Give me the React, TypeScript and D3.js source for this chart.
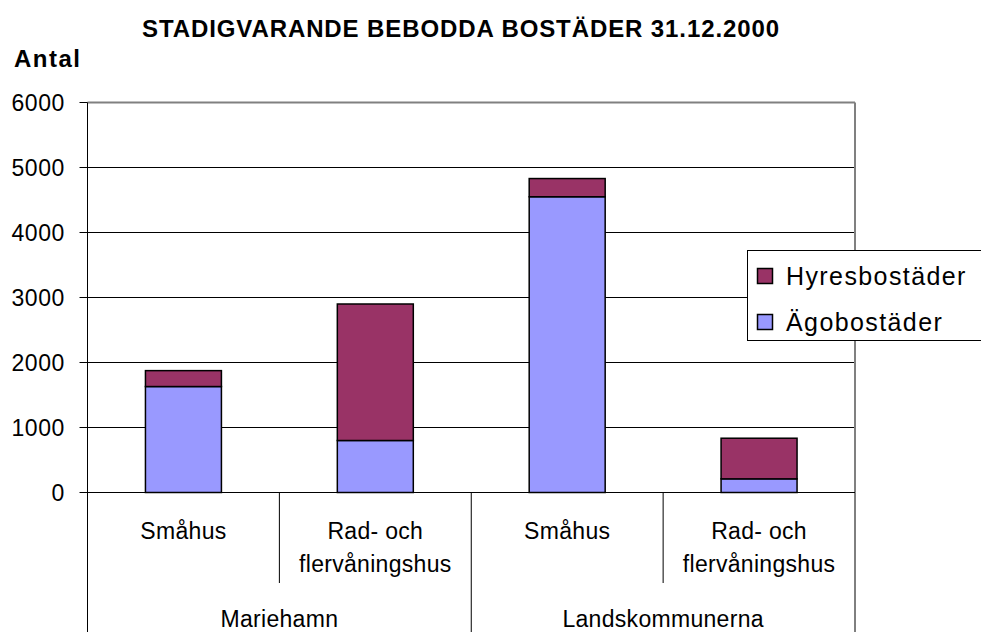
import React from "react";
import * as d3 from "d3";

const categories = ["Småhus", "Rad- och flervåningshus", "Småhus", "Rad- och flervåningshus"];
const groups = ["Mariehamn", "Landskommunerna"];
const seriesNames = ["Ägobostäder", "Hyresbostäder"];
const agobostader = [1630, 800, 4550, 210];
const hyresbostader = [245, 2100, 280, 625];
const yTicks = [0, 1000, 2000, 3000, 4000, 5000, 6000];
const colors = ["#9999FF", "#993366"];

const W = 981, H = 632;
const left = 87.5, right = 855, top = 102.5, bottom = 492.5;
const FONT = "'Liberation Sans', Arial, sans-serif";

export default function App() {
  const idx = categories.map((_, i) => i);
  const x = d3.scaleBand<number>().domain(idx).range([left, right]).padding(0);
  const y = d3.scaleLinear().domain([0, 6000]).range([bottom, top]);
  const rows = idx.map((i) => ({ i, a: agobostader[i], h: hyresbostader[i] }));
  const stacked = d3.stack<any>().keys(["a", "h"])(rows);
  const step = x.step();
  const bw = step * 0.396;
  const groupX = d3.scaleBand<string>().domain(groups).range([left, right]);

  return (
    <svg width={W} height={H} style={{ position: "absolute", left: 0, top: 0, background: "#fff" }} fontFamily={FONT}>
      <rect x={0} y={0} width={W} height={H} fill="#fff" />
      <text x={461} y={37} textAnchor="middle" fontWeight="bold" fontSize={24} letterSpacing={0.9}>
        STADIGVARANDE BEBODDA BOSTÄDER 31.12.2000
      </text>
      <text x={14} y={67} fontWeight="bold" fontSize={24} letterSpacing={1.5}>Antal</text>

      {/* gridlines */}
      {yTicks.filter((t) => t > 0 && t < 6000).map((t) => (
        <line key={t} x1={left} x2={right} y1={y(t)} y2={y(t)} stroke="#000" strokeWidth={1} />
      ))}
      {/* plot border top/right */}
      <line x1={left} x2={right} y1={top} y2={top} stroke="#808080" strokeWidth={2} />
      <line x1={right} x2={right} y1={top} y2={bottom} stroke="#808080" strokeWidth={2} />

      {/* bars */}
      {stacked.map((s, si) =>
        s.map((d, j) => (
          <rect
            key={si + "-" + j}
            x={(x(j) as number) + (step - bw) / 2}
            y={y(d[1])}
            width={bw}
            height={y(d[0]) - y(d[1])}
            fill={colors[si]}
            stroke="#000"
            strokeWidth={1.5}
          />
        ))
      )}

      {/* y axis */}
      <line x1={left} x2={left} y1={top} y2={H} stroke="#000" strokeWidth={1} />
      {yTicks.map((t) => (
        <g key={t}>
          <line x1={left - 8} x2={left} y1={y(t)} y2={y(t)} stroke="#000" strokeWidth={1} />
          <text x={65} y={y(t) + 8.3} textAnchor="end" fontSize={23} letterSpacing={0.6}>{t}</text>
        </g>
      ))}
      {/* x axis */}
      <line x1={left} x2={right} y1={bottom} y2={bottom} stroke="#000" strokeWidth={1.2} />
      {idx.slice(1).map((i) => (
        <line key={i} x1={x(i) as number} x2={x(i) as number} y1={bottom} y2={i % 2 === 0 ? H : 583} stroke="#000" strokeWidth={1} />
      ))}
      <line x1={right} x2={right} y1={bottom} y2={H} stroke="#000" strokeWidth={1} />

      {categories.map((c, i) => {
        const cx = (x(i) as number) + step / 2;
        const parts = c === "Rad- och flervåningshus" ? ["Rad- och", "flervåningshus"] : [c];
        return (
          <text key={i} x={cx} textAnchor="middle" fontSize={23} letterSpacing={0.3}>
            {parts.map((p, k) => (
              <tspan key={k} x={cx} y={539 + k * 33}>{p}</tspan>
            ))}
          </text>
        );
      })}
      {groups.map((g) => (
        <text key={g} x={(groupX(g) as number) + groupX.bandwidth() / 2} y={627} textAnchor="middle" fontSize={23} letterSpacing={0.3}>
          {g}
        </text>
      ))}

      {/* legend */}
      <rect x={747.5} y={250.5} width={240} height={90} fill="#fff" stroke="#000" strokeWidth={1} />
      {[1, 0].map((si, k) => (
        <g key={si}>
          <rect x={757.5} y={268.5 + k * 46} width={15} height={15} fill={colors[si]} stroke="#000" strokeWidth={1.5} />
          <text x={786} y={285 + k * 46} fontSize={25} letterSpacing={1.4}>{seriesNames[si]}</text>
        </g>
      ))}
    </svg>
  );
}
